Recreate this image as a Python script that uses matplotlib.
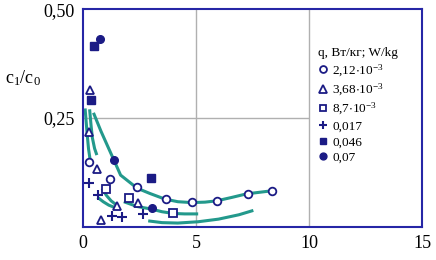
import matplotlib
matplotlib.use("Agg")
import matplotlib.pyplot as plt

# series markers, q in W/kg
q_labels = [r"$\mathregular{2{,}12{\cdot}10^{-3}}$", r"$\mathregular{3{,}68{\cdot}10^{-3}}$",
            r"$\mathregular{8{,}7{\cdot}10^{-3}}$", "0,017", "0,046", "0,07"]

x_212 = [0.28, 1.19, 2.38, 3.66, 4.84, 5.94, 7.29, 8.35]
y_212 = [0.150, 0.110, 0.092, 0.064, 0.057, 0.060, 0.076, 0.083]
x_368 = [0.31, 0.28, 0.63, 1.52, 2.45, 0.80]
y_368 = [0.314, 0.219, 0.132, 0.049, 0.056, 0.016]
x_87 = [1.02, 2.05, 4.00]
y_87 = [0.087, 0.067, 0.031]
x_017 = [0.28, 0.68, 1.30, 1.74, 2.64]
y_017 = [0.102, 0.073, 0.026, 0.024, 0.029]
x_046 = [0.49, 0.38, 3.00]
y_046 = [0.415, 0.291, 0.112]
x_07 = [0.78, 1.37, 3.04]
y_07 = [0.431, 0.154, 0.044]

# hand drawn trend curves
cu_x = [0.47, 0.80, 1.11, 1.37, 1.67, 2.40, 2.96, 3.63, 4.20, 4.81, 5.40, 5.92, 6.60, 7.24, 8.35]
cu_y = [0.262, 0.220, 0.184, 0.154, 0.119, 0.089, 0.077, 0.064, 0.058, 0.056, 0.057, 0.060, 0.068, 0.076, 0.083]
cm_x = [1.81, 2.40, 3.04, 3.50, 4.00, 4.50, 5.10]
cm_y = [0.058, 0.047, 0.041, 0.035, 0.031, 0.030, 0.030]
cl_x = [2.89, 3.50, 4.20, 5.10, 6.00, 6.90, 7.54]
cl_y = [0.014, 0.010, 0.009, 0.012, 0.018, 0.028, 0.038]
c1_x = [0.10, 0.18, 0.25, 0.32]
c1_y = [0.272, 0.220, 0.180, 0.155]
c2_x = [0.30, 0.36, 0.42, 0.52, 0.62]
c2_y = [0.270, 0.235, 0.205, 0.180, 0.165]
s1_x = [0.85, 1.05, 1.25, 1.50]
s1_y = [0.088, 0.072, 0.060, 0.050]
s2_x = [0.65, 0.90, 1.15, 1.50]
s2_y = [0.068, 0.058, 0.050, 0.043]

plt.rcParams['font.family'] = ['Liberation Serif', 'DejaVu Serif']
plt.rcParams['mathtext.fontset'] = 'custom'
plt.rcParams['mathtext.rm'] = 'Liberation Serif'

navy = "#1b1b85"
teal = "#23998c"

fig = plt.figure(figsize=(4.36, 2.60), dpi=100)
ax = fig.add_axes([0.190, 0.127, 0.778, 0.838])

ax.axvline(5, color="#b0b0b0", lw=1, zorder=0)
ax.axvline(10, color="#b0b0b0", lw=1, zorder=0)
ax.hlines(0.25, 0, 10, color="#b0b0b0", lw=1, zorder=0)

for cx, cy in [(cu_x, cu_y), (cm_x, cm_y), (cl_x, cl_y), (c1_x, c1_y),
               (c2_x, c2_y), (s1_x, s1_y), (s2_x, s2_y)]:
    ax.plot(cx, cy, color=teal, lw=2.2, solid_capstyle="butt", zorder=1)

h = []
h.append(ax.plot(x_212, y_212, "o", ms=5.5, mfc="white", mec=navy, mew=1.3, ls="none", zorder=3)[0])
h.append(ax.plot(x_368, y_368, "^", ms=6, mfc="white", mec=navy, mew=1.3, ls="none", zorder=3)[0])
h.append(ax.plot(x_87, y_87, "s", ms=5.5, mfc="white", mec=navy, mew=1.3, ls="none", zorder=3)[0])
h.append(ax.plot(x_017, y_017, "+", ms=7, mec=navy, mew=1.5, ls="none", zorder=3)[0])
h.append(ax.plot(x_046, y_046, "s", ms=5.5, mfc=navy, mec=navy, ls="none", zorder=3)[0])
h.append(ax.plot(x_07, y_07, "o", ms=5.5, mfc=navy, mec=navy, ls="none", zorder=3)[0])

ax.set_xlim(0, 15)
ax.set_ylim(0, 0.5)
ax.set_xticks([0, 5, 10, 15])
ax.set_xticklabels(["0", "5", "10", "15"])
ax.set_yticks([0.25, 0.5])
ax.set_yticklabels(["0,25", "0,50"])
ax.tick_params(length=0, labelsize=13, pad=6)
for s in ax.spines.values():
    s.set_color("#2626a6")
    s.set_linewidth(1.5)

fig.text(0.012, 0.70, r"$\mathregular{c_1/c_0}$", fontsize=13, va="center", ha="left")

leg = ax.legend(h, q_labels, title="q, Вт/кг; W/kg", loc="upper left",
                bbox_to_anchor=(0.665, 0.868), frameon=False, fontsize=9.5,
                title_fontsize=9.5, handlelength=0.8, handletextpad=0.3,
                labelspacing=0.25, borderpad=0.2, markerscale=0.9)
leg._legend_box.align = "left"

fig.savefig("out.png", dpi=100)
